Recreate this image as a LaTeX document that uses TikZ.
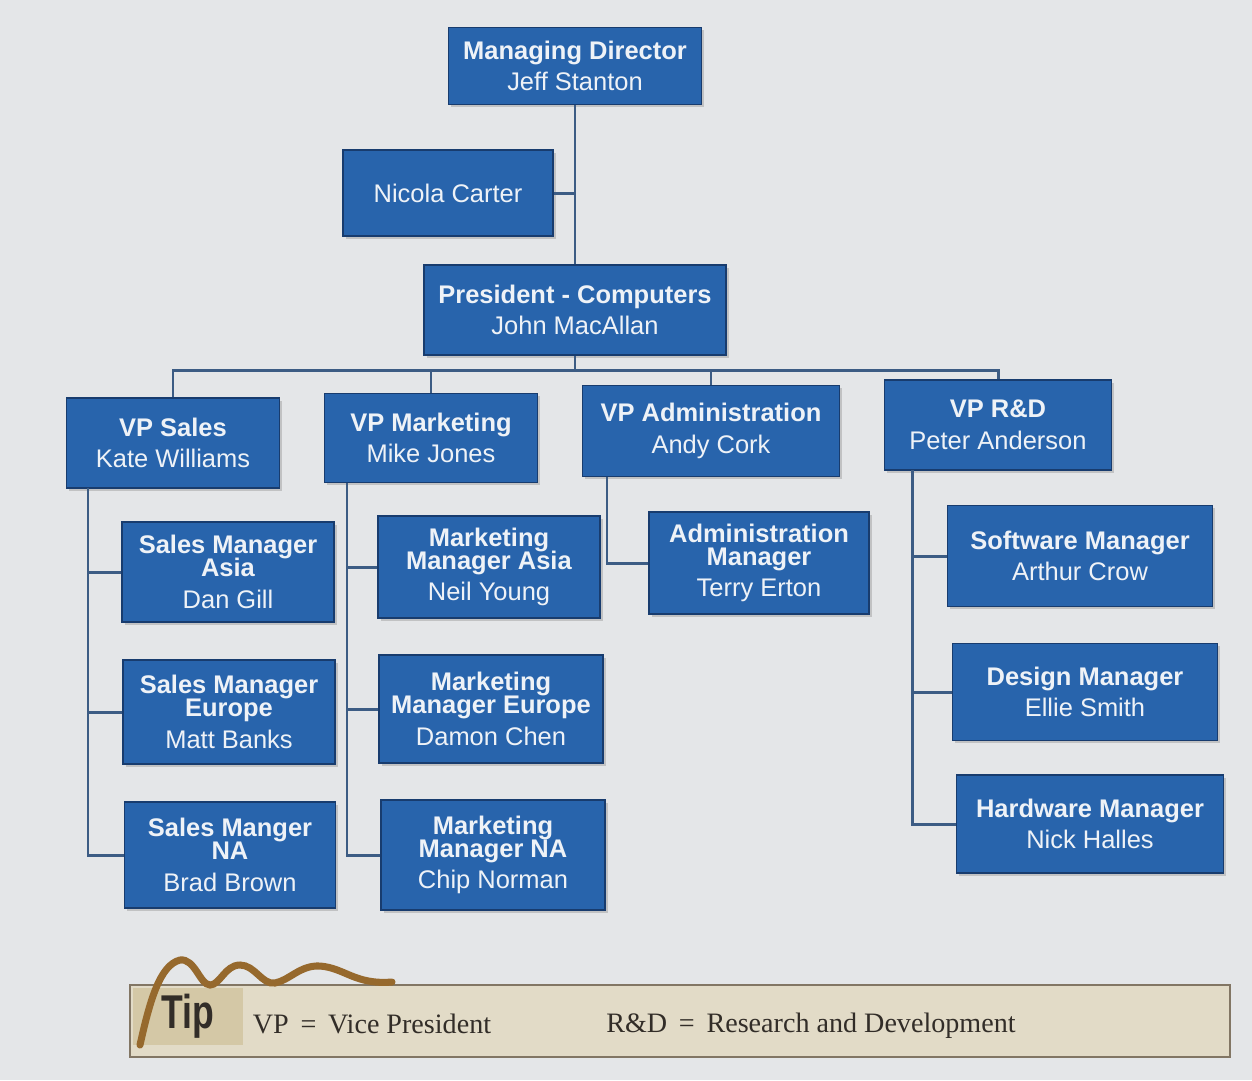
\documentclass[tikz,border=0pt]{standalone}
\usepackage{fontspec}
\setmainfont{Liberation Sans}
\newfontfamily\tipserif{Liberation Serif}
\newfontfamily\tipsans[FakeStretch=0.75]{Liberation Sans}
\usetikzlibrary{shadows}
\definecolor{pagegray}{RGB}{228,230,232}
\definecolor{boxblue}{RGB}{40,100,172}
\definecolor{boxedge}{RGB}{24,60,110}
\definecolor{boxtext}{RGB}{238,242,247}
\definecolor{linkblue}{RGB}{60,92,132}
\definecolor{tipfill}{RGB}{226,219,199}
\definecolor{tipdark}{RGB}{212,200,166}
\definecolor{tipedge}{RGB}{130,118,100}
\definecolor{brushbrown}{RGB}{150,105,45}
\definecolor{tipink}{RGB}{50,45,40}

\begin{document}
\begin{tikzpicture}[x=0.02cm, y=-0.02cm,
  post/.style={draw=boxedge, fill=boxblue, text=boxtext, line width=1pt, align=center, inner sep=1pt,
    font=\fontsize{14.5}{18}\selectfont,
    drop shadow={shadow xshift=1.5pt, shadow yshift=-1.5pt, opacity=0.35}},
  link/.style={draw=linkblue, line width=1.7pt},
  tipbar/.style={draw=tipedge, fill=tipfill, line width=1.2pt, minimum width=22cm, minimum height=1.44cm},
  tipdef/.style={text=tipink, font=\tipserif\fontsize{16}{18}\selectfont}]

\fill[pagegray] (0,0) rectangle (1252,1080);
\useasboundingbox (0,0) rectangle (1252,1080);

\node[post, minimum width=5.06cm, minimum height=1.54cm] (md) at (575,66) {\textbf{Managing Director}\\Jeff Stanton};
\node[post, minimum width=4.2cm, minimum height=1.72cm] (nc) at (448,193) {Nicola Carter};
\node[post, minimum width=6.04cm, minimum height=1.8cm] (pres) at (575,310) {\textbf{President - Computers}\\John MacAllan};

\node[post, minimum width=4.26cm, minimum height=1.8cm] (vps) at (173,443) {\textbf{VP Sales}\\Kate Williams};
\node[post, minimum width=4.26cm, minimum height=1.78cm] (vpm) at (431,438) {\textbf{VP Marketing}\\Mike Jones};
\node[post, minimum width=5.14cm, minimum height=1.82cm] (vpa) at (711,431) {\textbf{VP Administration}\\Andy Cork};
\node[post, minimum width=4.54cm, minimum height=1.8cm] (vprd) at (998,425) {\textbf{VP R\&D}\\Peter Anderson};

\node[post, minimum width=4.24cm, minimum height=2cm] (sma) at (228,572) {\textbf{Sales Manager}\\[-5pt]\textbf{Asia}\\Dan Gill};
\node[post, minimum width=4.24cm, minimum height=2.08cm] (sme) at (229,712) {\textbf{Sales Manager}\\[-5pt]\textbf{Europe}\\Matt Banks};
\node[post, minimum width=4.22cm, minimum height=2.12cm] (smn) at (230,855) {\textbf{Sales Manger}\\[-5pt]\textbf{NA}\\Brad Brown};

\node[post, minimum width=4.44cm, minimum height=2.04cm] (mma) at (489,567) {\textbf{Marketing}\\[-5pt]\textbf{Manager Asia}\\Neil Young};
\node[post, minimum width=4.48cm, minimum height=2.16cm] (mme) at (491,709) {\textbf{Marketing}\\[-5pt]\textbf{Manager Europe}\\Damon Chen};
\node[post, minimum width=4.48cm, minimum height=2.2cm] (mmn) at (493,855) {\textbf{Marketing}\\[-5pt]\textbf{Manager NA}\\Chip Norman};

\node[post, minimum width=4.4cm, minimum height=2.04cm] (am) at (759,563) {\textbf{Administration}\\[-5pt]\textbf{Manager}\\Terry Erton};

\node[post, minimum width=5.3cm, minimum height=2.02cm] (sw) at (1080,556) {\textbf{Software Manager}\\Arthur Crow};
\node[post, minimum width=5.3cm, minimum height=1.94cm] (dm) at (1085,692) {\textbf{Design Manager}\\Ellie Smith};
\node[post, minimum width=5.34cm, minimum height=1.96cm] (hm) at (1090,824) {\textbf{Hardware Manager}\\Nick Halles};

\coordinate (bus) at (575,370);
\coordinate (salestrunk) at (88,488);
\coordinate (mkttrunk) at (347,483);
\coordinate (admtrunk) at (607,477);
\coordinate (rdtrunk) at (912,470);

\draw[link] (md.south) -- (pres.north);
\draw[link] (nc.east) -- (nc.east -| md.south);
\draw[link] (pres.south) -- (bus);
\draw[link] (vps.north) |- (bus) -| (vprd.north);
\draw[link] (vpm.north) -- (vpm.north |- bus);
\draw[link] (vpa.north) -- (vpa.north |- bus);

\draw[link] (salestrunk) |- (smn.west);
\draw[link] (salestrunk |- sma.west) -- (sma.west);
\draw[link] (salestrunk |- sme.west) -- (sme.west);
\draw[link] (mkttrunk) |- (mmn.west);
\draw[link] (mkttrunk |- mma.west) -- (mma.west);
\draw[link] (mkttrunk |- mme.west) -- (mme.west);
\draw[link] (admtrunk) |- (am.west);
\draw[link] (rdtrunk) |- (hm.west);
\draw[link] (rdtrunk |- sw.west) -- (sw.west);
\draw[link] (rdtrunk |- dm.west) -- (dm.west);

\node[tipbar] (tip) at (680,1021) {};
\node[fill=tipdark, minimum width=2.22cm, minimum height=1.14cm] (tiplabel) at (188,1016) {};
\draw[brushbrown, line width=4pt, line cap=round] (140,1045) .. controls (150,1000) and (160,965) .. (180,960)
  .. controls (195,958) and (200,985) .. (210,985) .. controls (220,985) and (225,965) .. (240,965)
  .. controls (255,965) and (262,985) .. (275,983) .. controls (290,980) and (300,965) .. (320,966)
  .. controls (345,968) and (355,985) .. (392,982);
\node[text=tipink, font=\tipsans\bfseries\fontsize{27}{28}\selectfont] (tiptext) at (tiplabel) {Tip};
\node[tipdef] (vpdef) at (372,1024) {VP \,=\, Vice President};
\node[tipdef] (rddef) at (811,1026) {R\&D \,=\, Research and Development};
\end{tikzpicture}
\end{document}
